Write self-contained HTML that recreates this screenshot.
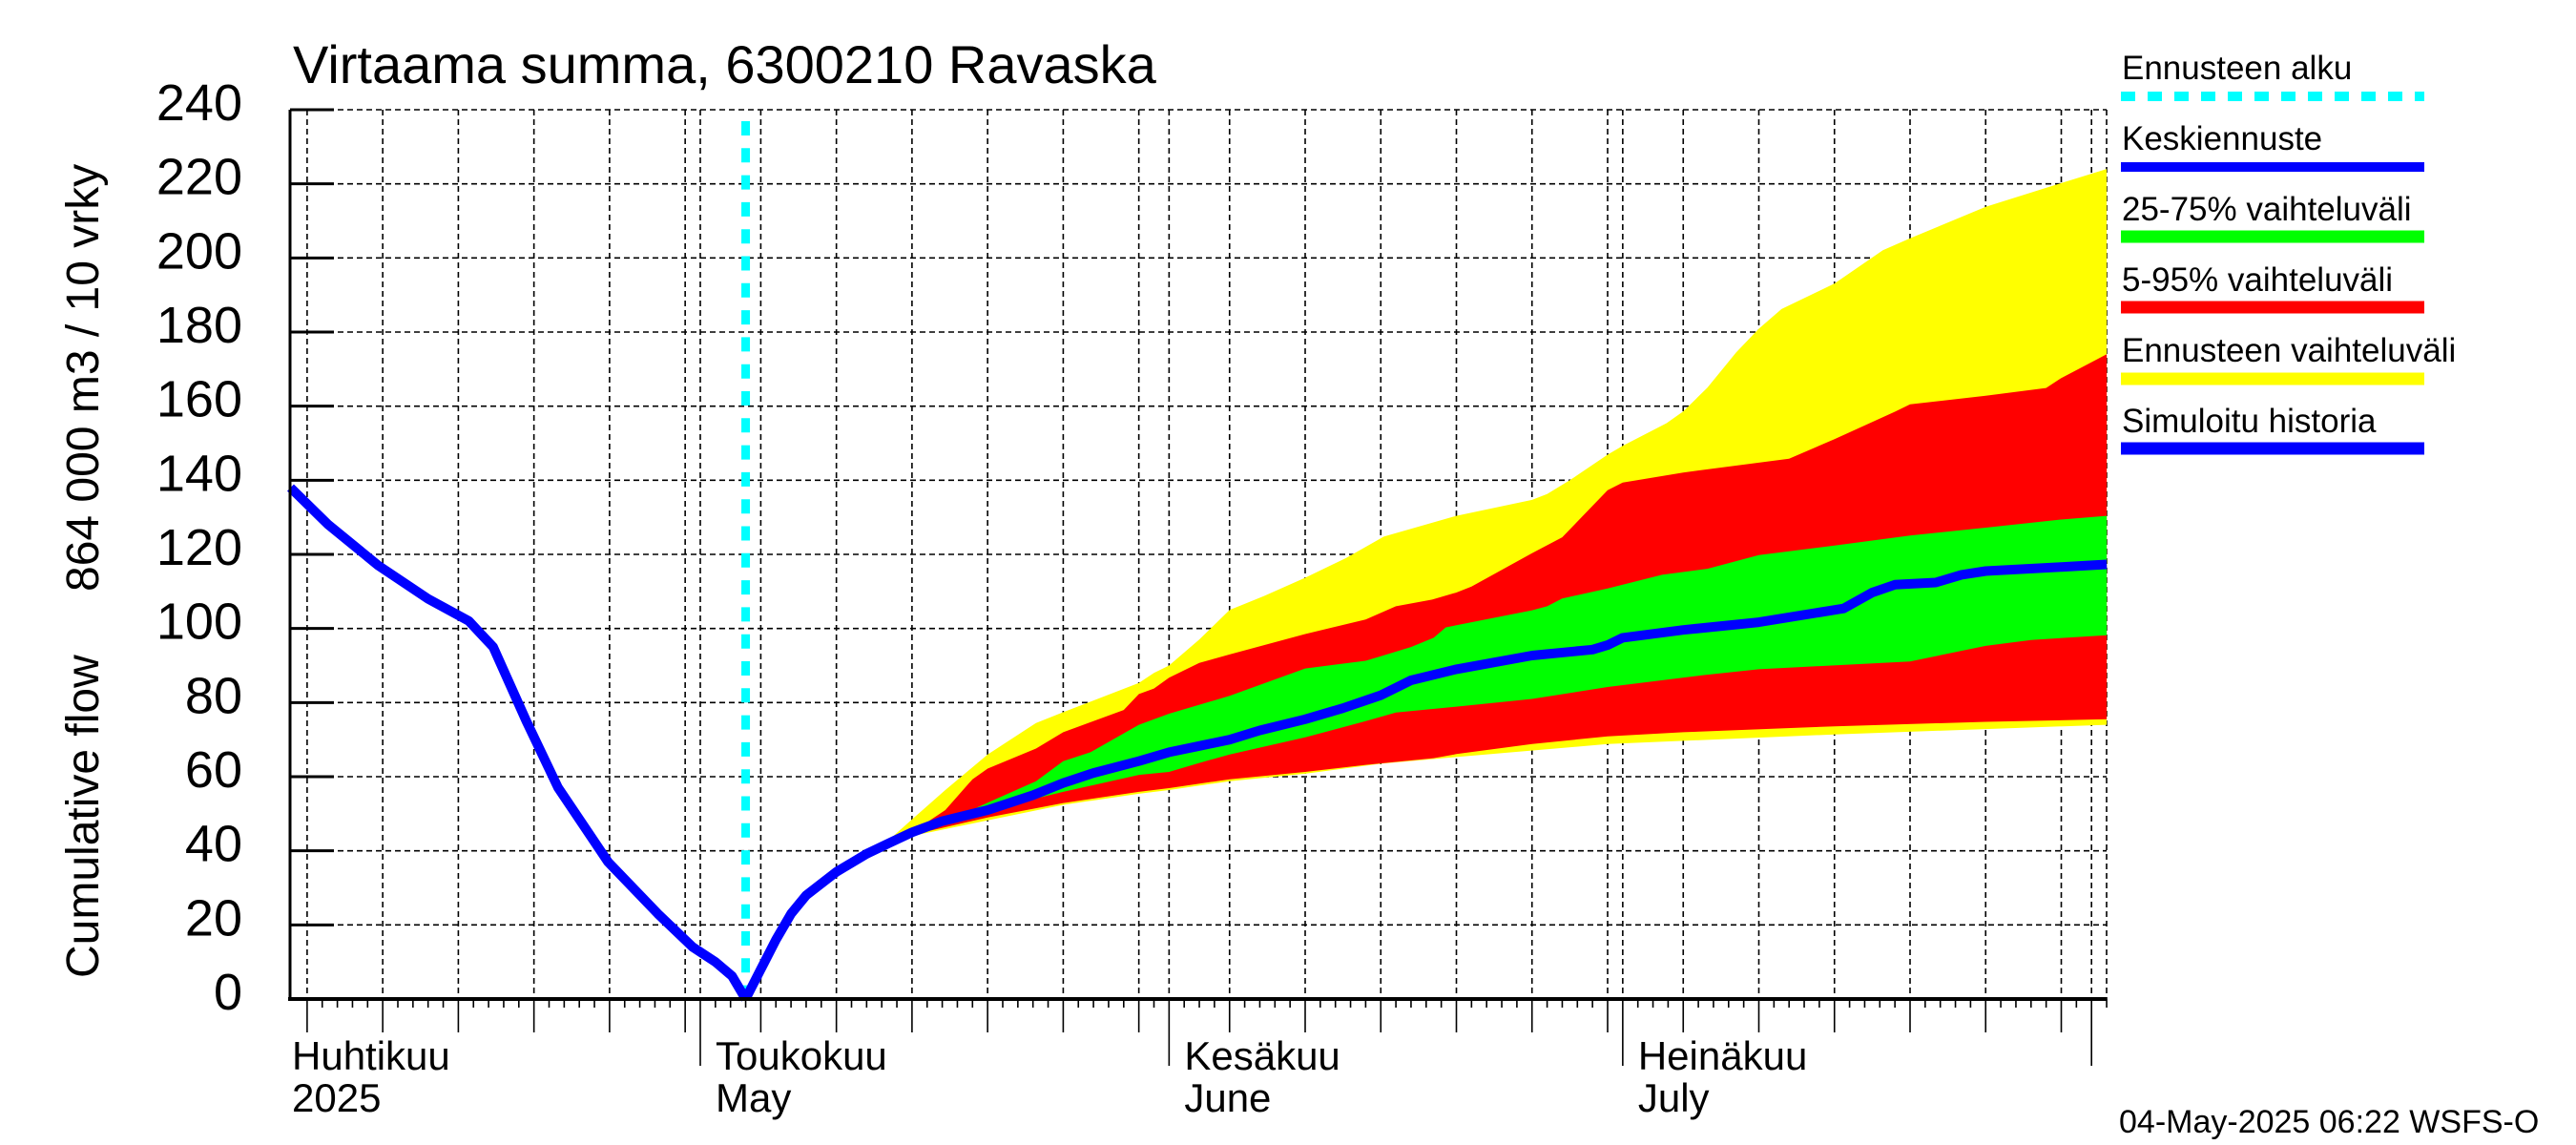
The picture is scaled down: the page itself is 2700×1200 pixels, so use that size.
<!DOCTYPE html>
<html><head><meta charset="utf-8"><style>
html,body{margin:0;padding:0;background:#fff;}
svg{display:block;font-family:"Liberation Sans",Arial,sans-serif;}
</style></head><body>
<svg id="chart" width="2700" height="1200" viewBox="0 0 2700 1200" xmlns="http://www.w3.org/2000/svg">
<rect x="0" y="0" width="2700" height="1200" fill="#fff"/>
<g id="grid"></g>
<g id="bands"></g>
<g id="lines"></g>
<g id="axes"></g>
<text x="307" y="87" font-size="56">Virtaama summa, 6300210 Ravaska</text>
<text transform="translate(103,1025) rotate(-90)" font-size="48">Cumulative flow</text>
<text transform="translate(103,620) rotate(-90)" font-size="48">864 000 m3 / 10 vrky</text>
<g id="legend">
  <text x="2224" y="83" font-size="35">Ennusteen alku</text>
  <line x1="2223" y1="101" x2="2541" y2="101" stroke="#00ffff" stroke-width="10" stroke-dasharray="15 13"/>
  <text x="2224" y="157" font-size="35">Keskiennuste</text>
  <line x1="2223" y1="175" x2="2541" y2="175" stroke="#0000ff" stroke-width="10"/>
  <text x="2224" y="231" font-size="35">25-75% vaihteluväli</text>
  <line x1="2223" y1="248" x2="2541" y2="248" stroke="#00ff00" stroke-width="13"/>
  <text x="2224" y="305" font-size="35">5-95% vaihteluväli</text>
  <line x1="2223" y1="322" x2="2541" y2="322" stroke="#ff0000" stroke-width="13"/>
  <text x="2224" y="379" font-size="35">Ennusteen vaihteluväli</text>
  <line x1="2223" y1="397" x2="2541" y2="397" stroke="#ffff00" stroke-width="13"/>
  <text x="2224" y="453" font-size="35">Simuloitu historia</text>
  <line x1="2223" y1="470" x2="2541" y2="470" stroke="#0000ff" stroke-width="13"/>
</g>
<text x="2221" y="1187" font-size="34">04-May-2025 06:22 WSFS-O</text>
</svg>
<script>
// ---- data (days relative to 1 May 2025, values in 864 000 m3) ----
const yTicks = [0,20,40,60,80,100,120,140,160,180,200,220,240];
const monthLabels = ["Huhtikuu","Toukokuu","Kesäkuu","Heinäkuu"];
const monthSubLabels = ["2025","May","June","July"];
const monthLabelDays = [-27,0,31,61];
const forecastStartDay = 3;

const histDays = [-27.1,-24.6,-21.3,-18,-15.3,-13.7,-11.5,-9.4,-6.1,-2.8,-0.5,1,2.1,3];
const histVals = [138,128,117,108,102,95,75,57,37,23,14,10,6.2,0];

const medDays = [3,4,5,6,7,9,11,12.5,14,16,19,22,24,26,29,31,33,35,37,40,42.5,45,47,50,55,59,60,61,65,70,75.6,77.5,79,81.7,83.4,85,90,93];
const medVals = [0,8,16,23,28,34.3,39.2,42.1,45,48,51,55,58.3,61,64.2,66.6,68.3,70,72.5,75.5,78.5,82,86,89,92.7,94.3,95.5,97.5,99.6,101.7,105.4,109.7,111.8,112.4,114.5,115.5,116.6,117.3];

const maxDays = [11,12.5,14,16.2,19,22.2,24,29,30,31,33,35,37.3,40,42.7,45.2,50,55,56,57.5,60,61,63.9,65,66.6,68.5,70,71.5,75,78.2,80,85,90,93];
const maxVals = [39.2,43,48.5,56.4,66,74.5,77.4,85.3,88,90,97,105,108.8,113.7,119,124.8,130.4,134.7,136.3,140,146.9,149.3,155.4,158.6,165,174.5,180.9,186.2,193.1,202.1,205.3,213.8,220.2,224];
const minDays = [11,14,19,24,29,31,35,40,45,50,60,75,93];
const minVals = [39.2,44,48.2,52.4,55.4,56.4,58.8,60.8,63.5,65.3,68.8,71.4,74];

const p95Days = [11,14,16.2,18,19,22.2,24,28,29,30,31,33,35,40,44,46,48.4,50,51,55,57,60,61,65,72,75,79,80,85,89,90,93];
const p95Vals = [39.2,45,51,59.3,62.2,67.6,72,78,82.3,83.8,86.7,90.7,93,98.5,102.4,106,107.8,109.7,111.3,120.3,124.6,137.3,139.4,142.1,145.8,151.1,158.5,160.5,162.8,164.9,167.6,174];
const p5Days = [11,14,19,24,29,31,35,40,44,48.5,50,55,60,65,75,85,93];
const p5Vals = [39.2,44.3,49,52.9,55.9,56.9,59.3,61.3,63.2,65,66.1,68.8,70.9,72,73.6,74.8,75.5];

const p75Days = [11,14,19,22.2,24,25.8,29,31,35,40,44,45,47,48.5,49.3,55,56,57,60,63.6,66.6,70,75,80,85,90,93];
const p75Vals = [39.2,43.6,53,58.8,64.2,66.6,74,77,81.8,89.2,91.3,92.5,95,97.5,100.3,104.9,106,108.1,110.8,114.5,116.1,119.8,122.4,125.1,127.2,129.4,130.4];
const p25Days = [11,14,19,24,29,31,33,35,40,44,46,50,55,60,66.3,70,80,85,88,93];
const p25Vals = [39.2,44.6,51,55.9,60.5,61.3,63.7,66,70.6,75,77.3,78.9,81,84.2,87.4,89,91.1,95.3,96.9,98.2];

// ---- scales ----
const X0 = 734, PXD = 15.85, Y0 = 1047, PXV = 932/240;
const LEFT = 304, RIGHT = 2208, TOP = 115;
function xs(d){ return X0 + PXD*d; }
function ys(v){ return Y0 - PXV*v; }
const NS = "http://www.w3.org/2000/svg";
function mk(tag, attrs, parent){
  const e = document.createElementNS(NS, tag);
  for (const k in attrs) e.setAttribute(k, attrs[k]);
  parent.appendChild(e); return e;
}
const grid = document.getElementById('grid');
const bands = document.getElementById('bands');
const lines = document.getElementById('lines');
const axes = document.getElementById('axes');

// horizontal gridlines
yTicks.forEach(v => {
  if (v === 0) return;
  const l = mk('line',{x1:LEFT,x2:RIGHT,y1:ys(v),y2:ys(v),stroke:'#000','stroke-width':1.6,'stroke-dasharray':'6 4'},grid);
  
  
});
// vertical gridlines + x ticks
const base = Date.UTC(2025,4,1);
for (let d = -26; d <= 93; d++) {
  const dom = new Date(base + d*86400000).getUTCDate();
  const x = xs(d);
  const isMonth = dom === 1;
  const isGrid = dom % 5 === 0;
  if (isMonth || isGrid) {
    const g = mk('line',{x1:x,x2:x,y1:TOP,y2:Y0,stroke:'#000','stroke-width':1.6,'stroke-dasharray':'6 4'},grid);
    
    
  }
  const len = isMonth ? 70 : (isGrid ? 35 : 9);
  const t = mk('line',{x1:x,x2:x,y1:Y0,y2:Y0+len,stroke:'#000','stroke-width':1.6},axes);
  
  
}
// right dashed border
const rb = mk('line',{x1:RIGHT,x2:RIGHT,y1:TOP,y2:Y0,stroke:'#000','stroke-width':1.6,'stroke-dasharray':'6 4'},grid);



// bands
function bandPath(hd, hv, ld, lv){
  let s = '';
  hd.forEach((d,i)=>{ s += (i?'L':'M') + xs(d).toFixed(1) + ',' + ys(hv[i]).toFixed(1); });
  for (let i = ld.length-1; i >= 0; i--) s += 'L' + xs(ld[i]).toFixed(1) + ',' + ys(lv[i]).toFixed(1);
  return s + 'Z';
}
const by = mk('path',{d:bandPath(maxDays,maxVals,minDays,minVals),fill:'#ffff00'},bands);


const br = mk('path',{d:bandPath(p95Days,p95Vals,p5Days,p5Vals),fill:'#ff0000'},bands);


const bg = mk('path',{d:bandPath(p75Days,p75Vals,p25Days,p25Vals),fill:'#00ff00'},bands);



// forecast start line
const fs = mk('line',{x1:xs(forecastStartDay),x2:xs(forecastStartDay),y1:127,y2:Y0,stroke:'#00ffff','stroke-width':9,'stroke-dasharray':'15 13.3'},lines);



function linePath(ds, vs){
  return ds.map((d,i)=>(i?'L':'M')+xs(d).toFixed(1)+','+ys(vs[i]).toFixed(1)).join('');
}
const hl = mk('path',{d:linePath(histDays,histVals),fill:'none',stroke:'#0000ff','stroke-width':10,'stroke-linejoin':'round'},lines);


const ml = mk('path',{d:linePath(medDays,medVals),fill:'none',stroke:'#0000ff','stroke-width':10,'stroke-linejoin':'round'},lines);



// axes
const ax = mk('line',{x1:LEFT,x2:LEFT,y1:TOP,y2:Y0+2,stroke:'#000','stroke-width':3},axes);


const bx = mk('line',{x1:LEFT-2,x2:RIGHT,y1:Y0,y2:Y0,stroke:'#000','stroke-width':4},axes);


yTicks.forEach(v => {
  const t = mk('line',{x1:LEFT,x2:LEFT+46,y1:ys(v),y2:ys(v),stroke:'#000','stroke-width':3},axes);
  
  
  const lb = mk('text',{x:254,y:ys(v)+11,'font-size':54,'text-anchor':'end'},axes);
  lb.textContent = v;
  
  
});
monthLabels.forEach((m,i) => {
  const x = i === 0 ? 306 : xs(monthLabelDays[i]) + 16;
  const a = mk('text',{x:x,y:1121,'font-size':42},axes);
  a.textContent = m;
  
  
  const b = mk('text',{x:x,y:1165,'font-size':42},axes);
  b.textContent = monthSubLabels[i];
  
  
});
</script>
</body></html>
